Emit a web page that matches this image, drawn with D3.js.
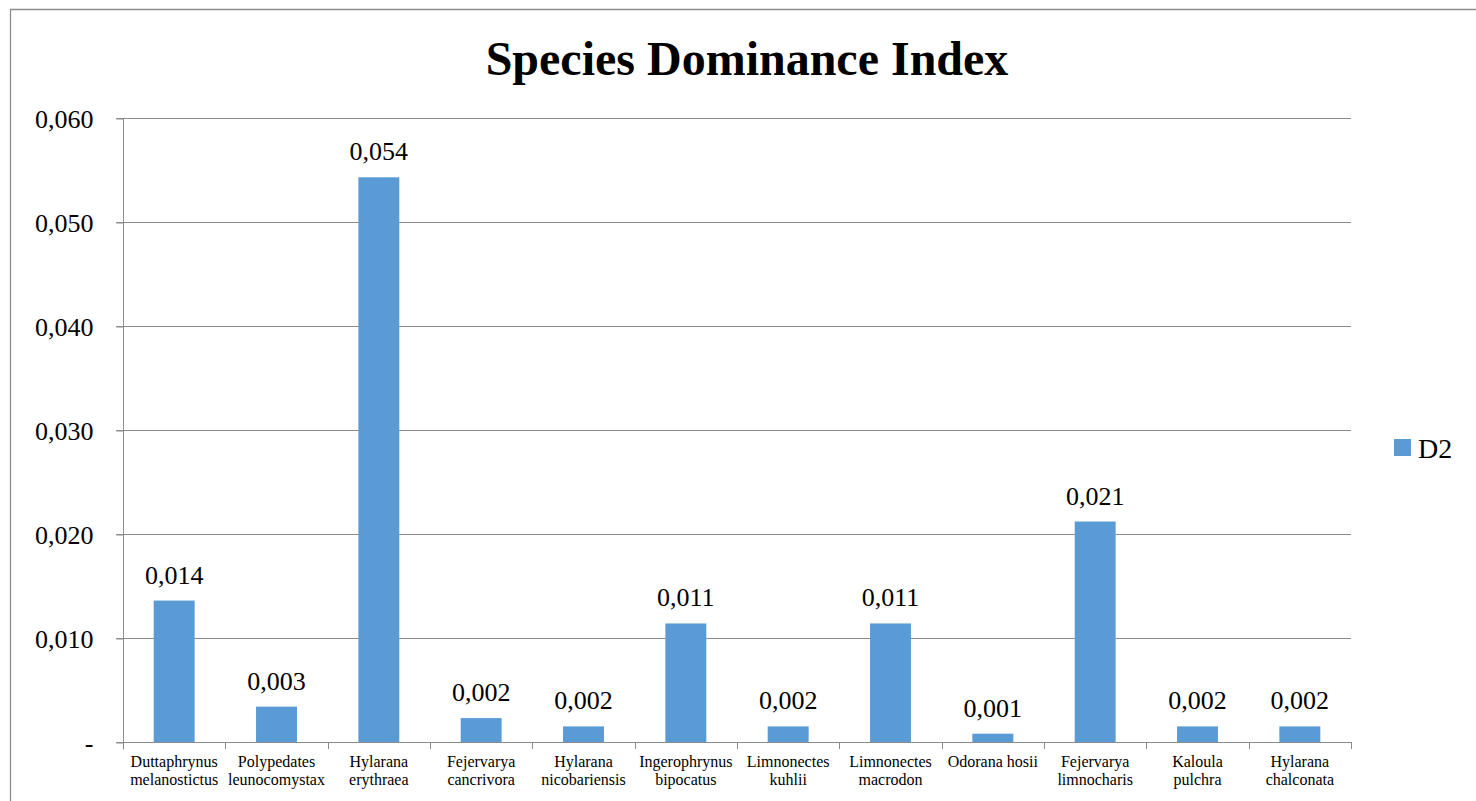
<!DOCTYPE html>
<html><head><meta charset="utf-8">
<script src="https://cdn.jsdelivr.net/npm/d3@7"></script>
<style>body{margin:0;background:#fff}svg{display:block}</style>
</head><body>
<script>
const categories = [
  ["Duttaphrynus","melanostictus"],
  ["Polypedates","leunocomystax"],
  ["Hylarana","erythraea"],
  ["Fejervarya","cancrivora"],
  ["Hylarana","nicobariensis"],
  ["Ingerophrynus","bipocatus"],
  ["Limnonectes","kuhlii"],
  ["Limnonectes","macrodon"],
  ["Odorana hosii"],
  ["Fejervarya","limnocharis"],
  ["Kaloula","pulchra"],
  ["Hylarana","chalconata"]
];
const values = [0.0136, 0.0034, 0.0543, 0.0023, 0.0015, 0.0114, 0.0015, 0.0114, 0.0008, 0.0212, 0.0015, 0.0015];
const valueLabels = ["0,014","0,003","0,054","0,002","0,002","0,011","0,002","0,011","0,001","0,021","0,002","0,002"];
const yTicks = [0, 0.01, 0.02, 0.03, 0.04, 0.05, 0.06];
const yTickLabels = ["-","0,010","0,020","0,030","0,040","0,050","0,060"];
const seriesName = "D2";
const title = "Species Dominance Index";

(function(){
const W = 1476, H = 801;
const FF = '"Liberation Serif"';
const svg = d3.select("body").append("svg").attr("width", W).attr("height", H);

svg.append("path").attr("d", `M10.5,${H+5} L10.5,9.5 L${W+5},9.5`)
  .attr("fill","none").attr("stroke","#8c8c8c").attr("stroke-width",1.3);

const pL = 123, pR = 1351, pT = 118, pB = 742;
const x = d3.scaleBand().domain(d3.range(categories.length)).range([pL, pR]).paddingInner(0.6).paddingOuter(0.3);
const y = d3.scaleLinear().domain([0, 0.06]).range([pB, pT]);

svg.append("text").attr("x", 747).attr("y", 75).attr("text-anchor","middle")
  .style("font-family", FF).attr("font-weight","bold").attr("font-size", 48).text(title);

// gridlines
svg.append("g").selectAll("line").data(yTicks.slice(1)).join("line")
  .attr("x1", pL - 7).attr("x2", pR).attr("y1", d => Math.round(y(d)) + 0.5).attr("y2", d => Math.round(y(d)) + 0.5)
  .attr("stroke","#8c8c8c").attr("stroke-width",1);

// y axis
const yAxis = d3.axisLeft(y).tickValues(yTicks).tickSize(7).tickPadding(23).tickFormat((d,i) => yTickLabels[i]);
const gy = svg.append("g").attr("transform", `translate(${pL + 0.5},0.5)`).call(yAxis);
gy.select(".domain").attr("stroke","#8c8c8c").attr("d", `M0,${pT} V${pB + 7}`);
gy.selectAll(".tick line").attr("stroke","#8c8c8c");
gy.selectAll(".tick text").style("font-family", FF).attr("font-size", 26).attr("fill","#000").attr("dy","0.36em");

// bars
svg.append("g").selectAll("rect").data(values).join("rect")
  .attr("x", (d,i) => x(i)).attr("width", x.bandwidth())
  .attr("y", d => y(d)).attr("height", d => pB - y(d))
  .attr("fill", "#5b9bd5");

// x axis
const step = (pR - pL) / categories.length;
const xb = d3.range(categories.length + 1).map(i => pL + i * step);
const gx = svg.append("g");
gx.append("line").attr("x1", pL - 7).attr("x2", pR).attr("y1", pB + 0.5).attr("y2", pB + 0.5)
  .attr("stroke","#8c8c8c").attr("stroke-width",1);
gx.selectAll("line.t").data(xb).join("line").attr("class","t")
  .attr("x1", d => Math.round(d) + 0.5).attr("x2", d => Math.round(d) + 0.5)
  .attr("y1", pB).attr("y2", pB + 7).attr("stroke","#8c8c8c");

const cl = svg.append("g").selectAll("text").data(categories).join("text")
  .attr("x", (d,i) => x(i) + x.bandwidth()/2).attr("y", 767)
  .attr("text-anchor","middle").style("font-family", FF).attr("font-size", 16).attr("fill","#000");
cl.each(function(d){
  const t = d3.select(this);
  d.forEach((s, j) => t.append("tspan").attr("x", t.attr("x")).attr("dy", j ? 17.5 : 0).text(s));
});

// value labels
svg.append("g").selectAll("text").data(values).join("text")
  .attr("x", (d,i) => x(i) + x.bandwidth()/2).attr("y", d => y(d) - 17)
  .attr("text-anchor","middle").style("font-family", FF).attr("font-size", 26).attr("fill","#000")
  .text((d,i) => valueLabels[i]);

// legend
const lg = svg.append("g").attr("transform","translate(1394,439)");
lg.append("rect").attr("width",17).attr("height",17).attr("fill","#5b9bd5");
lg.append("text").attr("x",24).attr("y",19).style("font-family", FF).attr("font-size", 28).text(seriesName);
})();
</script>
</body></html>
